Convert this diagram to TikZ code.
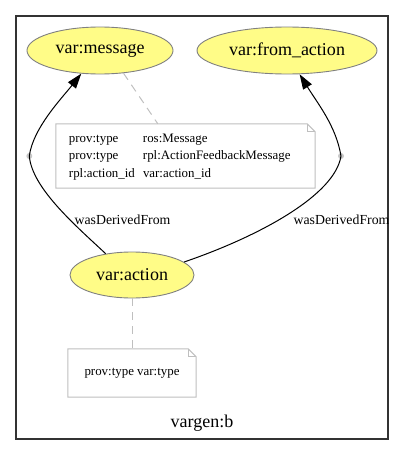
\documentclass[tikz,border=0pt]{standalone}
\usepackage{fontspec}
\setmainfont{Liberation Serif}
\usetikzlibrary{shapes.geometric,arrows.meta}
\definecolor{provyellow}{HTML}{FFFC87}
\begin{document}
\begin{tikzpicture}[x=1pt,y=-1pt,
  entity/.style={ellipse, draw=black!50, fill=provyellow, line width=0.9pt, inner sep=0pt,
    font=\fontsize{18}{20}\selectfont},
  notebox/.style={draw=none, inner sep=0pt, font=\fontsize{12.9}{17.5}\selectfont},
  noteline/.style={draw=black!25, line width=1pt},
  attr/.style={draw=black!25, line width=1pt, dash pattern=on 8pt off 6pt},
  deriv/.style={line width=1pt, -{Triangle[length=15pt,width=10pt]}},
  elabel/.style={inner sep=0pt, font=\fontsize{13.8}{15}\selectfont},
  bendpt/.style={circle, fill=black!22, draw=none, inner sep=0pt, minimum size=6pt},
  frame/.style={draw=black!80, line width=1.4pt}]
\useasboundingbox (0,0) rectangle (404,455);

% cluster frame
\draw[frame] (16,16) rectangle (388,439);
\node[font=\fontsize{18}{20}\selectfont] (cl) at (202,423) {vargen:b};

% entities
\node[entity, minimum width=146pt, minimum height=47pt] (msg) at (100,50.5) {var:message};
\node[entity, minimum width=180pt, minimum height=47pt] (fa) at (287,50.5) {var:from\_action};
\node[entity, minimum width=124pt, minimum height=46pt] (act) at (132,275) {var:action};

% note 1
\node[notebox, minimum width=259pt, minimum height=64pt] (n1) at (185.5,156) {%
  \makebox[259pt][l]{\hspace{13pt}\begin{tabular}{@{}p{74pt}@{}l@{}}
  prov:type & ros:Message\\
  prov:type & rpl:ActionFeedbackMessage\\
  rpl:action\_id & var:action\_id
  \end{tabular}}};
\draw[noteline] (n1.north west) -- ([xshift=-8pt]n1.north east) -- ([yshift=-8pt]n1.north east)
  -- (n1.south east) -- (n1.south west) -- cycle;
\draw[noteline] ([xshift=-8pt]n1.north east) -- ([xshift=-8pt,yshift=-8pt]n1.north east)
  -- ([yshift=-8pt]n1.north east);

% note 2
\node[notebox, minimum width=128pt, minimum height=48pt] (n2) at (132,373) {prov:type var:type};
\draw[noteline] (n2.north west) -- ([xshift=-8pt]n2.north east) -- ([yshift=-8pt]n2.north east)
  -- (n2.south east) -- (n2.south west) -- cycle;
\draw[noteline] ([xshift=-8pt]n2.north east) -- ([xshift=-8pt,yshift=-8pt]n2.north east)
  -- ([yshift=-8pt]n2.north east);

% attribute links
\draw[attr] (msg.316) -- ([xshift=102pt]n1.north west);
\draw[attr] (act.south) -- (n2.north);

% bend points
\node[bendpt] (b1) at (29.3,156) {};
\node[bendpt] (b2) at (341,156) {};

% derivation edges
\draw[line width=1pt] (act.141) .. controls (75,225) and (32,188) .. (b1.center);
\draw[deriv] (b1.center) .. controls (33,128) and (62,98) .. (msg.231);
\draw[line width=1pt] (act.14) .. controls (260,236) and (335,195) .. (b2.center);
\draw[deriv] (b2.center) .. controls (336,126) and (318,104) .. (fa.298);

% edge labels
\node[elabel] (l1) at (122.5,220) {wasDerivedFrom};
\node[elabel] (l2) at (341.5,220) {wasDerivedFrom};
\end{tikzpicture}
\end{document}
